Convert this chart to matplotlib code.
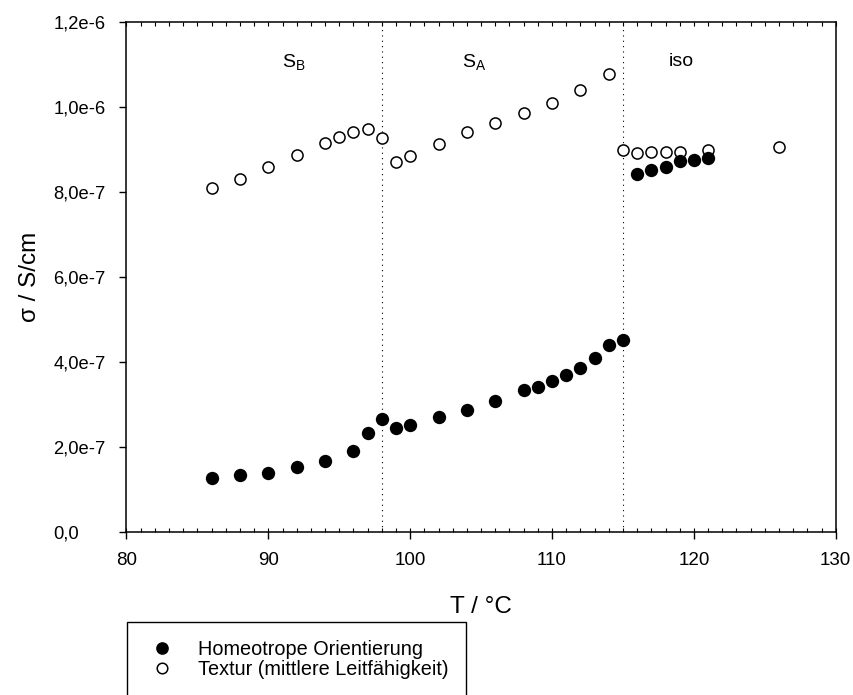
import matplotlib.pyplot as plt
from matplotlib.patches import Rectangle
from matplotlib.ticker import MultipleLocator

plt.rcParams['font.family'] = ['Liberation Sans', 'DejaVu Sans']
plt.rcParams['mathtext.default'] = 'regular'

# Homeotrope Orientierung (gefuellte Kreise)
t_homeo = [86, 88, 90, 92, 94, 96, 97, 98, 99, 100, 102, 104, 106, 108, 109, 110,
           111, 112, 113, 114, 115, 116, 117, 118, 119, 120, 121]
s_homeo = [1.28e-7, 1.33e-7, 1.40e-7, 1.54e-7, 1.67e-7, 1.91e-7, 2.34e-7, 2.66e-7,
           2.44e-7, 2.52e-7, 2.71e-7, 2.88e-7, 3.08e-7, 3.33e-7, 3.41e-7, 3.56e-7,
           3.70e-7, 3.86e-7, 4.10e-7, 4.40e-7, 4.52e-7, 8.43e-7, 8.53e-7, 8.60e-7,
           8.73e-7, 8.76e-7, 8.80e-7]

# Textur (offene Kreise)
t_textur = [86, 88, 90, 92, 94, 95, 96, 97, 98, 99, 100, 102, 104, 106, 108, 110,
            112, 114, 115, 116, 117, 118, 119, 121, 126]
s_textur = [8.09e-7, 8.31e-7, 8.60e-7, 8.88e-7, 9.15e-7, 9.30e-7, 9.42e-7, 9.49e-7,
            9.27e-7, 8.71e-7, 8.85e-7, 9.12e-7, 9.41e-7, 9.63e-7, 9.87e-7, 1.010e-6,
            1.041e-6, 1.077e-6, 8.98e-7, 8.91e-7, 8.95e-7, 8.95e-7, 8.95e-7, 9.00e-7,
            9.06e-7]

phase_borders = [98, 115]
phase_names = [r'$S_B$', r'$S_A$', 'iso']
phase_x = [91.8, 104.5, 119.1]
phase_y = 1.107e-6

y_ticks = [0, 2e-7, 4e-7, 6e-7, 8e-7, 1.0e-6, 1.2e-6]
y_labels = ['0,0', '2,0e-7', '4,0e-7', '6,0e-7', '8,0e-7', '1,0e-6', '1,2e-6']

fig = plt.figure(figsize=(8.54, 6.95), dpi=100)
ax = fig.add_axes([0.1481, 0.2345, 0.8305, 0.7338])

ax.plot(t_textur, s_textur, 'o', ms=8.0, mfc='white', mec='black', mew=1.1,
        ls='none', zorder=3, label='Textur (mittlere Leitfähigkeit)')
ax.plot(t_homeo, s_homeo, 'o', ms=9.6, mfc='black', mec='black', mew=0,
        ls='none', zorder=4, label='Homeotrope Orientierung')

for xb in phase_borders:
    ax.axvline(xb, color='black', lw=0.8, ls=(0, (1, 3.8)), zorder=2)

for name, xp in zip(phase_names, phase_x):
    ax.text(xp, phase_y, name, fontsize=14, ha='center', va='center')

ax.set_xlim(80, 130)
ax.set_ylim(0, 1.2e-6)
ax.set_xticks([80, 90, 100, 110, 120, 130])
ax.xaxis.set_minor_locator(MultipleLocator(1))
ax.xaxis.remove_overlapping_locs = False
ax.set_yticks(y_ticks)
ax.set_yticklabels(y_labels)

ax.tick_params(axis='x', which='major', direction='out', length=5.3, width=1,
               labelsize=13.5, pad=9)
ax.tick_params(axis='x', which='minor', direction='in', length=3.2, width=0.8,
               top=True, bottom=True)
ax.tick_params(axis='y', which='major', direction='out', length=5.3, width=1,
               labelsize=13.2, pad=47.4)
# SigmaPlot-Stil: y-Beschriftungen linksbuendig
for lbl in ax.get_yticklabels():
    lbl.set_horizontalalignment('left')
for sp in ax.spines.values():
    sp.set_linewidth(1.1)

ax.set_xlabel('T / °C', fontsize=17.5, labelpad=19.5)
ax.set_ylabel('σ / S/cm', fontsize=17.5, labelpad=9)

# Legende unten links, Rahmen laeuft ueber den Bildrand hinaus
h, l = ax.get_legend_handles_labels()
leg = fig.legend(h[::-1], l[::-1], loc='upper left',
                 bbox_to_anchor=(152.4 / 854, 1 - 640 / 695), frameon=False,
                 fontsize=14.3, borderpad=0, borderaxespad=0, handlelength=1.0,
                 handletextpad=1.28, labelspacing=0.055, markerscale=0.95)
fig.patches.append(Rectangle((126.7 / 854, -0.1), 339 / 854, 0.1 + (1 - 621.7 / 695),
                             transform=fig.transFigure, fill=False,
                             edgecolor='black', lw=1.0))

fig.savefig('out.png', dpi=100)
